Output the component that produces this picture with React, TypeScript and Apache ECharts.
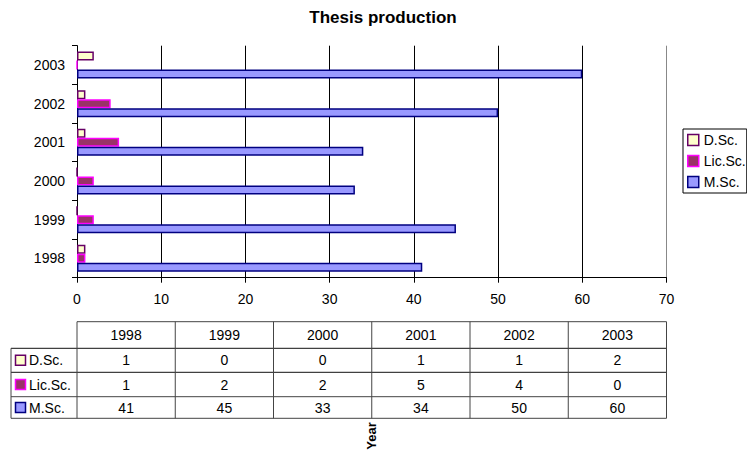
import React, { useEffect, useRef } from "react";
import * as echarts from "echarts";

const years = ["1998", "1999", "2000", "2001", "2002", "2003"];
const dscValues = [1, 0, 0, 1, 1, 2];
const licValues = [1, 2, 2, 5, 4, 0];
const mscValues = [41, 45, 33, 34, 50, 60];
const seriesNames = ["D.Sc.", "Lic.Sc.", "M.Sc."];
const xMin = 0;
const xMax = 70;
const xInterval = 10;
const titleText = "Thesis production";
const tableAxisName = "Year";

const FONT = "'Liberation Sans', Arial, sans-serif";
const fills = ["#FFFFCC", "#993366", "#9999FF"];
const borders = ["#660066", "#FF00FF", "#000080"];

export default function App() {
  const ref = useRef<HTMLDivElement>(null);
  useEffect(() => {
    if (!ref.current) return;
    const chart = echarts.init(ref.current, null, { renderer: "svg" });
    const values = [dscValues, licValues, mscValues];

    const gridLeft = 77;
    const gridRight = 80.5;
    const plotRight = 747 - gridRight;
    const colW = (plotRight - gridLeft) / years.length;
    const rowY = [321.7, 348.3, 372.3, 396.7, 418.3];
    const tableLeft = 11;
    const lineColor = "#444";

    const graphics: any[] = [];
    // horizontal lines
    graphics.push({
      type: "line",
      shape: { x1: gridLeft, y1: rowY[0], x2: plotRight, y2: rowY[0] },
      style: { stroke: lineColor, lineWidth: 1 },
    });
    for (let r = 1; r < rowY.length; r++) {
      graphics.push({
        type: "line",
        shape: { x1: tableLeft, y1: rowY[r], x2: plotRight, y2: rowY[r] },
        style: { stroke: r === 1 || r === 2 ? "#111" : lineColor, lineWidth: 1 },
      });
    }
    // vertical lines
    for (let c = 0; c <= years.length; c++) {
      const x = gridLeft + c * colW;
      graphics.push({
        type: "line",
        shape: { x1: x, y1: rowY[0], x2: x, y2: rowY[rowY.length - 1] },
        style: { stroke: lineColor, lineWidth: 1 },
      });
    }
    graphics.push({
      type: "line",
      shape: { x1: tableLeft, y1: rowY[1], x2: tableLeft, y2: rowY[rowY.length - 1] },
      style: { stroke: lineColor, lineWidth: 1 },
    });
    // header texts
    years.forEach((y, c) => {
      graphics.push({
        type: "text",
        x: gridLeft + (c + 0.5) * colW,
        y: (rowY[0] + rowY[1]) / 2,
        style: {
          text: y,
          fontSize: 14,
          fontFamily: FONT,
          fill: "#000",
          align: "center",
          verticalAlign: "middle",
        },
      });
    });
    // rows
    seriesNames.forEach((name, s) => {
      const yc = (rowY[s + 1] + rowY[s + 2]) / 2;
      graphics.push({
        type: "rect",
        shape: { x: 15.5, y: yc - 5, width: 10, height: 10 },
        style: { fill: fills[s], stroke: borders[s], lineWidth: 1.5 },
      });
      graphics.push({
        type: "text",
        x: 29,
        y: yc,
        style: {
          text: name,
          fontSize: 14,
          fontFamily: FONT,
          fill: "#000",
          align: "left",
          verticalAlign: "middle",
        },
      });
      values[s].forEach((v, c) => {
        graphics.push({
          type: "text",
          x: gridLeft + (c + 0.5) * colW,
          y: yc,
          style: {
            text: String(v),
            fontSize: 14,
            fontFamily: FONT,
            fill: "#000",
            align: "center",
            verticalAlign: "middle",
          },
        });
      });
    });
    graphics.push({
      type: "text",
      x: (gridLeft + plotRight) / 2,
      y: 436,
      rotation: Math.PI / 2,
      style: {
        text: tableAxisName,
        fontSize: 13,
        fontWeight: "bold",
        fontFamily: FONT,
        fill: "#000",
        align: "center",
        verticalAlign: "middle",
      },
    });

    const splitColors: string[] = [];
    for (let v = xMin; v <= xMax; v += xInterval) {
      splitColors.push(v === xMax ? "#888" : "#000");
    }

    chart.setOption({
      animation: false,
      backgroundColor: "#fff",
      textStyle: { fontFamily: FONT },
      title: {
        text: titleText,
        left: 378,
        top: 4,
        textAlign: "center",
        textStyle: { fontSize: 17, fontWeight: "bold", color: "#000", fontFamily: FONT },
      },
      legend: {
        orient: "vertical",
        left: 683,
        top: 129,
        data: seriesNames,
        backgroundColor: "#fff",
        borderColor: "#000",
        borderWidth: 1,
        padding: [4, 1, 4, 4],
        itemWidth: 11,
        itemHeight: 11,
        itemGap: 7,
        icon: "rect",
        itemStyle: { borderWidth: 1.5 },
        textStyle: { fontSize: 14, color: "#000", fontFamily: FONT, lineHeight: 14 },
      },
      grid: { left: gridLeft, right: gridRight, top: 45.7, bottom: 176.3, containLabel: false },
      xAxis: {
        type: "value",
        min: xMin,
        max: xMax,
        interval: xInterval,
        axisLine: { show: true, lineStyle: { color: "#000", width: 1 } },
        axisTick: { show: true, length: 5, lineStyle: { color: "#000" } },
        axisLabel: { fontSize: 14, color: "#000", margin: 14, fontFamily: FONT },
        splitLine: { show: true, lineStyle: { color: splitColors, width: 1 } },
      },
      yAxis: {
        type: "category",
        data: years,
        axisLine: { show: true, lineStyle: { color: "#000", width: 1 } },
        axisTick: { show: true, length: 5, lineStyle: { color: "#000" } },
        axisLabel: { fontSize: 14, color: "#000", margin: 12, fontFamily: FONT },
        splitLine: { show: false },
      },
      series: seriesNames.map((name, s) => ({
        name,
        type: "bar",
        data: values[s],
        barWidth: 9,
        barGap: "0%",
        itemStyle: { color: fills[s], borderColor: borders[s], borderWidth: 1.5 },
      })),
      graphic: graphics,
    });
    return () => chart.dispose();
  }, []);
  return (
    <div
      ref={ref}
      style={{ position: "fixed", left: 0, top: 0, width: 747, height: 454, background: "#fff" }}
    />
  );
}
